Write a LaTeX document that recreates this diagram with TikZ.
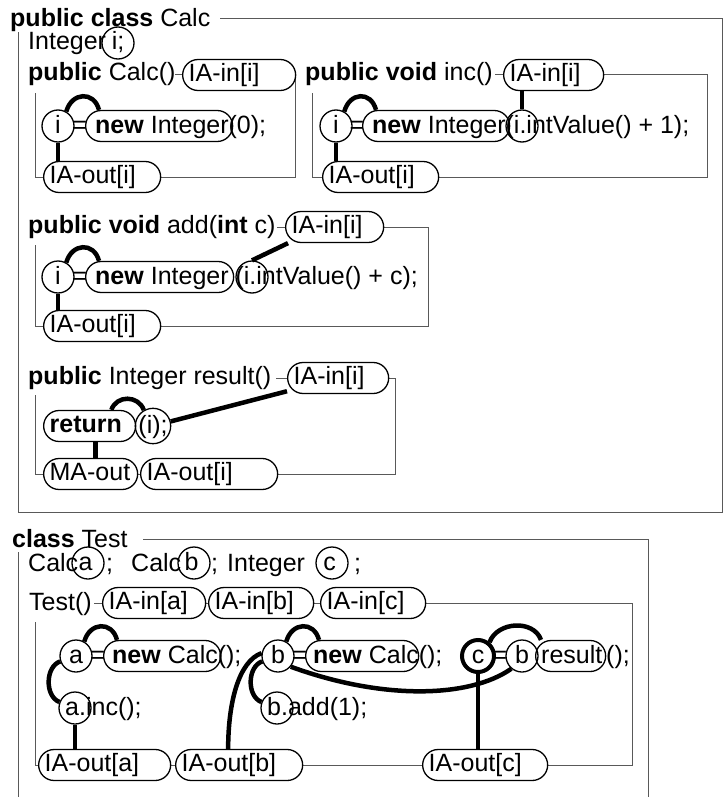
\documentclass[tikz,border=0pt]{standalone}
\usepackage{fontspec}
\setmainfont{Liberation Sans}
\usetikzlibrary{backgrounds}
\begin{document}
\begin{tikzpicture}[x=1pt,y=1pt,
  every node/.style={font=\fontsize{25}{30}\selectfont},
  txt/.style={anchor=base west, inner sep=0pt},
  circ/.style={circle, draw, line width=1.3pt, minimum size=32pt, inner sep=0pt,
    text height=17pt, text depth=3pt},
  tag/.style={draw, line width=1.3pt, rounded corners=15.5pt, minimum height=31pt,
    inner xsep=6pt, inner ysep=0pt, anchor=west, align=left,
    text height=17pt, text depth=4pt},
  iapill/.style={tag, fill=white},
  oval/.style={draw, line width=1.3pt, rounded corners=15.5pt, minimum height=31pt,
    inner sep=0pt, anchor=west},
  frame/.style={line width=1pt, draw=black!65},
  conn/.style={line width=4.5pt}]
\useasboundingbox (0,0) rectangle (723,-797);

% ---------------- class Calc ----------------
\node[txt] (calcHdr) at (10,-27) {\textbf{public class} Calc};
\node[txt] (declI) at (28,-50) {Integer};
\node[circ] (vI) at (118,-43) {i;};

% constructor Calc()
\node[txt] (ctorHdr) at (28,-81) {\textbf{public} Calc()};
\node[iapill, text width=101pt] (ctorIn) at (182,-75) {IA-in[i]};
\node[circ] (ctorI) at (58,-126) {i};
\node[txt, anchor=base] (ctorEq) at (80,-133) {=};
\node[oval, minimum width=147pt] (ctorNew) at (85,-126) {};
\node[txt] (ctorRhs) at (95,-133) {\textbf{new} Integer(0);};
\node[iapill, text width=105pt] (ctorOut) at (43,-177) {IA-out[i]};

% method inc()
\node[txt] (incHdr) at (305,-81) {\textbf{public void} inc()};
\node[iapill, text width=88pt] (incIn) at (503,-75) {IA-in[i]};
\node[circ] (incI) at (336,-126) {i};
\node[txt, anchor=base] (incEq) at (357,-133) {=};
\node[oval, minimum width=147pt] (incNew) at (362,-126) {};
\node[txt] (incRhs) at (372,-133) {\textbf{new} Integer(i.intValue() + 1);};
\node[circ] (incDot) at (522,-126) {};
\node[iapill, text width=104pt] (incOut) at (322,-177) {IA-out[i]};

% method add(int c)
\node[txt] (addHdr) at (28,-233) {\textbf{public void} add(\textbf{int} c)};
\node[iapill, text width=86pt] (addIn) at (285,-227) {IA-in[i]};
\node[circ] (addI) at (58,-277) {i};
\node[txt, anchor=base] (addEq) at (80,-284) {=};
\node[oval, minimum width=148pt] (addNew) at (85,-277) {};
\node[txt] (addRhs) at (95,-284) {\textbf{new} Integer (i.intValue() + c);};
\node[circ] (addDot) at (252,-277) {};
\node[iapill, text width=105pt] (addOut) at (43,-326) {IA-out[i]};

% method result()
\node[txt] (resHdr) at (28,-384) {\textbf{public} Integer result()};
\node[iapill, text width=89pt] (resIn) at (287,-378) {IA-in[i]};
\node[tag, text width=80pt] (resRet) at (43,-426) {\textbf{return}};
\node[circ, minimum size=33pt] (resI) at (153,-426) {(i);};
\node[iapill, text width=82pt] (resMA) at (43,-474) {MA-out};
\node[iapill, text width=125pt] (resOut) at (140,-474) {IA-out[i]};

% ---------------- class Test ----------------
\node[txt] (testHdr) at (12,-547) {\textbf{class} Test};
\node[txt] (declA) at (28,-571) {Calc};
\node[circ] (vA) at (88,-563) {a\hspace*{5pt}};
\node[txt] (semiA) at (106,-571) {;};
\node[txt] (declB) at (131,-571) {Calc};
\node[circ] (vB) at (194,-563) {b\hspace*{5pt}};
\node[txt] (semiB) at (211,-571) {;};
\node[txt] (declC) at (227,-571) {Integer};
\node[circ] (vC) at (332,-563) {c\hspace*{5pt}};
\node[txt] (semiC) at (354,-571) {;};

% constructor Test()
\node[txt] (tHdr) at (29,-610) {Test()};
\node[iapill, text width=91pt] (tInA) at (102,-603) {IA-in[a]};
\node[iapill, text width=93pt] (tInB) at (208,-603) {IA-in[b]};
\node[iapill, text width=93pt] (tInC) at (320,-603) {IA-in[c]};

\node[circ] (tA) at (76,-656) {a};
\node[txt, anchor=base] (tEqA) at (98,-663) {=};
\node[oval, minimum width=117pt] (tNewA) at (103,-656) {};
\node[txt] (tRhsA) at (112,-663) {\textbf{new} Calc();};
\node[circ] (tB) at (278,-656) {b};
\node[txt, anchor=base] (tEqB) at (300,-663) {=};
\node[oval, minimum width=113pt] (tNewB) at (305,-656) {};
\node[txt] (tRhsB) at (313,-663) {\textbf{new} Calc();};
\node[circ, line width=4pt] (tC) at (478,-656) {c};
\node[txt, anchor=base] (tEqC) at (500,-663) {=};
\node[circ] (tBr) at (522,-656) {b};
\node[oval, minimum width=70pt] (tRes) at (535,-656) {};
\node[txt] (tResTxt) at (541,-663) {result};
\node[txt] (tResEnd) at (606,-663) {();};

\node[circ] (tAd) at (75,-708) {};
\node[txt] (tIncTxt) at (65,-715) {a.inc();};
\node[circ] (tBd) at (277,-708) {};
\node[txt] (tAddTxt) at (267,-715) {b.add(1);};

\node[iapill, text width=120pt] (tOutA) at (38,-765) {IA-out[a]};
\node[iapill, text width=115pt] (tOutB) at (175,-765) {IA-out[b]};
\node[iapill, text width=113pt] (tOutC) at (422,-765) {IA-out[c]};

% ---------------- scope frames ----------------
\begin{pgfonlayer}{background}
  \draw[frame] (220,-19) -- (722,-19) -- (722,-512) -- (18,-512) -- (18,-32);
  \draw[frame] (175,-75) -- (295,-75) -- (295,-177) -- (35,-177) -- (35,-93);
  \draw[frame] (495,-75) -- (707,-75) -- (707,-177) -- (312,-177) -- (312,-93);
  \draw[frame] (277,-227) -- (428,-227) -- (428,-326) -- (35,-326) -- (35,-245);
  \draw[frame] (276,-378) -- (395,-378) -- (395,-474) -- (35,-474) -- (35,-395);
  \draw[frame] (143,-539) -- (648,-539) -- (648,-800);
  \draw[frame] (18,-552) -- (18,-800);
  \draw[frame] (94,-603) -- (632,-603) -- (632,-765) -- (35,-765) -- (35,-622);
\end{pgfonlayer}

% ---------------- data-flow links ----------------
% Calc()
\draw[conn] (ctorI.60) .. controls +(75:20) and +(105:20) .. ([xshift=14pt]ctorNew.north west);
\draw[conn] (ctorI.south) -- (ctorI.south |- ctorOut.north);
% inc()
\draw[conn] (incI.60) .. controls +(75:20) and +(105:20) .. ([xshift=14pt]incNew.north west);
\draw[conn] (incI.south) -- (incI.south |- incOut.north);
\draw[conn] (incDot.north |- incIn.south) -- (incDot.north);
% add(int c)
\draw[conn] (addI.60) .. controls +(75:20) and +(105:20) .. ([xshift=14pt]addNew.north west);
\draw[conn] (addI.south) -- (addI.south |- addOut.north);
\draw[conn] (addDot.north) -- ([xshift=3pt]addIn.south west);
% result()
\draw[conn] ([xshift=-25pt]resRet.north east) .. controls +(70:16) and +(110:16) .. (resI.120);
\draw[conn] (resI) -- (resIn);
\coordinate (retDown) at ([xshift=6pt]resRet.south);
\draw[conn] (retDown) -- (retDown |- resMA.north);
% Test()
\draw[conn] (tA.60) .. controls +(75:20) and +(105:20) .. ([xshift=14pt]tNewA.north west);
\draw[conn] (tA) to[bend right=70] (tAd);
\draw[conn] (tAd.south) -- (tAd.south |- tOutA.north);
\draw[conn] (tB.60) .. controls +(75:20) and +(105:20) .. ([xshift=14pt]tNewB.north west);
\draw[conn] (tB) to[bend right=70] (tBd);
\draw[conn] ([xshift=-11pt]tOutB.north) .. controls +(90:45) and +(200:25) .. (tB.170);
\draw[conn] (tB.-40) .. controls +(-20:100) and +(-145:50) .. (tBr.-130);
\draw[conn] (tC.50) .. controls +(70:22) and +(110:22) .. ([xshift=6pt]tRes.north west);
\draw[conn] (tC.south) -- (tC.south |- tOutC.north);
\end{tikzpicture}
\end{document}
